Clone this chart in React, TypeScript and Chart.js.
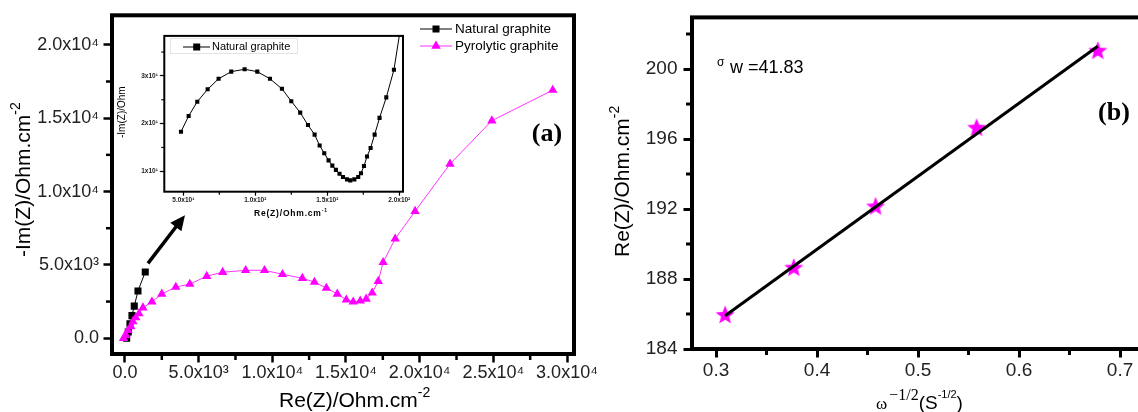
import React, { useEffect, useRef } from 'react';
import { Chart, registerables } from 'chart.js';

Chart.register(...registerables);

const SANS = 'Arial, "Liberation Sans", sans-serif';
const SERIF = '"Times New Roman", "Liberation Serif", serif';

// ---------- Panel (a): Nyquist plot ----------
const natX = [115, 224, 339, 475, 631, 883, 1378];
const natY = [0, 420, 990, 1540, 2190, 3220, 4520];

const pyrX = [-100, 70, 200, 400, 540, 740, 950, 1220, 1830, 2500, 3450, 4400, 5550, 6630, 8190, 9470, 10690, 12040, 12860, 13670, 14410, 15020, 15490, 15970, 16370, 16780, 17190, 17520, 18340, 19690, 22060, 24900, 29030];
const pyrY = [0, 200, 540, 800, 1140, 1410, 1680, 2080, 2480, 3020, 3490, 3690, 4230, 4500, 4630, 4630, 4360, 4090, 3830, 3420, 3020, 2620, 2480, 2550, 2680, 3090, 3890, 5170, 6780, 8660, 11880, 14830, 16910];

const aXTickValues = [0, 5000, 10000, 15000, 20000, 25000, 30000];
const aXTickLabels = ['0.0', '5.0x10³', '1.0x10⁴', '1.5x10⁴', '2.0x10⁴', '2.5x10⁴', '3.0x10⁴'];
const aYTickValues = [0, 5000, 10000, 15000, 20000];
const aYTickLabels = ['0.0', '5.0x10³', '1.0x10⁴', '1.5x10⁴', '2.0x10⁴'];

const arrowFrom = [1561, 5100];
const arrowTo = [4072, 8389];

// ---------- Inset: natural graphite ----------
const insetX = [48.4, 53.7, 59.7, 66.9, 74.5, 83.3, 92.6, 101.4, 110.2, 118.5, 125.0, 131.2, 136.6, 141.2, 144.7, 147.9, 150.9, 153.5, 156.0, 158.5, 160.9, 163.7, 166.0, 168.8, 171.5, 173.4, 175.5, 177.6, 180.1, 182.9, 186.3, 191.0, 196.3, 204.0];
const insetY = [18.3, 21.6, 24.6, 27.2, 29.4, 30.9, 31.4, 30.9, 29.4, 27.3, 24.7, 22.3, 19.7, 17.7, 15.4, 13.8, 12.3, 11.2, 10.3, 9.5, 8.8, 8.3, 8.1, 8.3, 8.8, 9.6, 11.1, 13.1, 14.9, 17.7, 21.2, 25.5, 31.3, 46.0];

const inXTickValues = [50, 100, 150, 200];
const inXTickLabels = ['5.0x10¹', '1.0x10²', '1.5x10²', '2.0x10²'];
const inYTickValues = [10, 20, 30];
const inYTickLabels = ['1x10¹', '2x10¹', '3x10¹'];

// ---------- Panel (b): Warburg ----------
const omegaX = [0.309, 0.377, 0.458, 0.558, 0.678];
const reZ = [185.95, 188.65, 192.15, 196.65, 201.05];
const fitX = [0.309, 0.678];
const fitY = [185.9, 201.3];

const bXTickValues = [0.3, 0.4, 0.5, 0.6, 0.7];
const bXTickLabels = ['0.3', '0.4', '0.5', '0.6', '0.7'];
const bYTickValues = [184, 188, 192, 196, 200];
const bYTickLabels = ['184', '188', '192', '196', '200'];

const sigmaText = '41.83';

// ---------- helpers ----------
function near(a: number, b: number) {
  return Math.abs(a - b) < 1e-6 * Math.max(1, Math.abs(b));
}
function isMajorIn(values: number[]) {
  return (v: number) => values.some((m) => near(v, m));
}
function labelFor(values: number[], labels: string[]) {
  return (v: any) => {
    const i = values.findIndex((m) => near(Number(v), m));
    return i >= 0 ? labels[i] : '';
  };
}
function pts(xs: number[], ys: number[]) {
  return xs.map((x, i) => ({ x, y: ys[i] }));
}
function stepTicks(min: number, max: number, step: number) {
  const out: { value: number }[] = [];
  let k = Math.ceil(min / step - 1e-9);
  while (k * step <= max + 1e-9) {
    out.push({ value: Math.round(k * step * 1e6) / 1e6 });
    k++;
  }
  return out;
}

type Part = { text: string; font: string; dy?: number; dx?: number };
function drawRich(ctx: CanvasRenderingContext2D, parts: Part[], x: number, y: number, rotate = 0, spacing = '0px') {
  ctx.save();
  ctx.translate(x, y);
  if (rotate) ctx.rotate(rotate);
  ctx.textAlign = 'left';
  ctx.textBaseline = 'alphabetic';
  ctx.fillStyle = '#000';
  (ctx as any).letterSpacing = spacing;
  let cx = 0;
  for (const p of parts) {
    ctx.font = p.font;
    cx += p.dx || 0;
    ctx.fillText(p.text, cx, p.dy || 0);
    cx += ctx.measureText(p.text).width;
  }
  ctx.restore();
}

function framePlugin(lw: number) {
  return {
    id: 'frame',
    afterDatasetsDraw(chart: any) {
      const { left, top, right, bottom } = chart.chartArea;
      const c = chart.ctx;
      c.save();
      c.strokeStyle = '#000';
      c.lineWidth = lw;
      c.strokeRect(left, top, right - left, bottom - top);
      c.restore();
    },
  };
}

function minorTicksPlugin(specs: { id: string; majors: number[]; len: number; width: number }[]) {
  return {
    id: 'minorTicks',
    afterDraw(chart: any) {
      const c = chart.ctx;
      c.save();
      c.strokeStyle = '#000';
      for (const s of specs) {
        const scale = chart.scales[s.id];
        const maj = isMajorIn(s.majors);
        c.lineWidth = s.width;
        for (const t of scale.ticks) {
          if (maj(t.value)) continue;
          const p = scale.getPixelForValue(t.value);
          c.beginPath();
          if (scale.isHorizontal()) {
            c.moveTo(p, scale.top);
            c.lineTo(p, scale.top + s.len);
          } else {
            c.moveTo(scale.right, p);
            c.lineTo(scale.right - s.len, p);
          }
          c.stroke();
        }
      }
      c.restore();
    },
  };
}

function axis(o: {
  pos: 'bottom' | 'left'; min: number; max: number; step: number; values: number[]; labels: string[];
  font: any; tl: number; tw: number; pad: number; size: number; color?: string;
}) {
  const maj = isMajorIn(o.values);
  return {
    type: 'linear',
    position: o.pos,
    min: o.min,
    max: o.max,
    afterBuildTicks: (s: any) => {
      s.ticks = stepTicks(o.min, o.max, o.step);
    },
    ticks: {
      autoSkip: false,
      maxRotation: 0,
      minRotation: 0,
      padding: o.pad,
      color: o.color || '#111',
      font: o.font,
      callback: labelFor(o.values, o.labels),
    },
    grid: {
      display: true,
      drawOnChartArea: false,
      drawTicks: true,
      tickLength: o.tl,
      tickWidth: o.tw,
      tickColor: (ctx: any) => (ctx.tick && maj(ctx.tick.value) ? '#000' : 'rgba(0,0,0,0)'),
    },
    border: { display: false },
    title: { display: false },
    afterFit: (s: any) => {
      if (o.pos === 'bottom') s.height = o.size;
      else s.width = o.size;
    },
  };
}

function makeA(canvas: HTMLCanvasElement) {
  const decor = {
    id: 'decorA',
    afterDraw(chart: any) {
      const c: CanvasRenderingContext2D = chart.ctx;
      const xs = chart.scales.x;
      const ys = chart.scales.y;
      // arrow
      const x1 = xs.getPixelForValue(arrowFrom[0]);
      const y1 = ys.getPixelForValue(arrowFrom[1]);
      const x2 = xs.getPixelForValue(arrowTo[0]);
      const y2 = ys.getPixelForValue(arrowTo[1]);
      const ang = Math.atan2(y2 - y1, x2 - x1);
      const hl = 15, hw = 7;
      const bx = x2 - hl * Math.cos(ang);
      const by = y2 - hl * Math.sin(ang);
      c.save();
      c.strokeStyle = '#000';
      c.fillStyle = '#000';
      c.lineWidth = 3.5;
      c.beginPath();
      c.moveTo(x1, y1);
      c.lineTo(bx + Math.cos(ang), by + Math.sin(ang));
      c.stroke();
      c.beginPath();
      c.moveTo(x2, y2);
      c.lineTo(bx + hw * Math.sin(ang), by - hw * Math.cos(ang));
      c.lineTo(bx - hw * Math.sin(ang), by + hw * Math.cos(ang));
      c.closePath();
      c.fill();
      c.restore();

      // legend
      c.save();
      c.lineWidth = 1;
      c.strokeStyle = '#000';
      c.beginPath();
      c.moveTo(420, 29);
      c.lineTo(452, 29);
      c.stroke();
      c.fillStyle = '#000';
      c.fillRect(436 - 3.5, 29 - 3.5, 7, 7);
      c.strokeStyle = '#ff33ff';
      c.beginPath();
      c.moveTo(420, 46);
      c.lineTo(452, 46);
      c.stroke();
      c.fillStyle = '#ff00ff';
      const r = 5.4;
      c.beginPath();
      c.moveTo(436, 46 - r);
      c.lineTo(436 + r * 0.866, 46 + r / 2);
      c.lineTo(436 - r * 0.866, 46 + r / 2);
      c.closePath();
      c.fill();
      c.fillStyle = '#000';
      c.font = `13.5px ${SANS}`;
      c.textBaseline = 'middle';
      c.textAlign = 'left';
      c.fillText('Natural graphite', 455, 29);
      c.fillText('Pyrolytic graphite', 455, 46);
      // panel label
      c.font = `bold 26px ${SERIF}`;
      c.textAlign = 'center';
      c.fillText('(a)', 547, 134);
      c.restore();

      // axis titles
      drawRich(c, [
        { text: '-Im(Z)/Ohm.cm', font: `21px ${SANS}` },
        { text: '-2', font: `14px ${SANS}`, dy: -10 },
      ], 30, 257, -Math.PI / 2);
      drawRich(c, [
        { text: 'Re(Z)/Ohm.cm', font: `21px ${SANS}` },
        { text: '-2', font: `14px ${SANS}`, dy: -10 },
      ], 279, 407);
    },
  };

  return new Chart(canvas, {
    type: 'scatter',
    data: {
      datasets: [
        {
          label: 'Natural graphite',
          data: pts(natX, natY),
          showLine: true,
          borderColor: '#000',
          borderWidth: 1,
          pointStyle: 'rect',
          pointRadius: 5,
          pointBackgroundColor: '#000',
          pointBorderColor: '#000',
          pointBorderWidth: 0,
          order: 1,
        },
        {
          label: 'Pyrolytic graphite',
          data: pts(pyrX, pyrY),
          showLine: true,
          borderColor: '#ff33ff',
          borderWidth: 1,
          pointStyle: 'triangle',
          pointRadius: 5.4,
          pointBackgroundColor: '#ff00ff',
          pointBorderColor: '#ff00ff',
          pointBorderWidth: 0,
          order: 0,
        },
      ] as any,
    },
    options: {
      responsive: false,
      animation: false,
      events: [],
      layout: { padding: { left: 0, top: 10, right: 26, bottom: 0 } },
      plugins: { legend: { display: false }, tooltip: { enabled: false } },
      scales: {
        x: axis({ pos: 'bottom', min: -880, max: 30475, step: 2500, values: aXTickValues, labels: aXTickLabels,
          font: { family: SANS, size: 18 }, tl: 8.5, tw: 2.5, pad: 0, size: 58, color: '#222' }),
        y: axis({ pos: 'left', min: -1074, max: 22013, step: 2500, values: aYTickValues, labels: aYTickLabels,
          font: { family: SANS, size: 18 }, tl: 8.5, tw: 2.5, pad: 4.5, size: 112, color: '#222' }),
      } as any,
    },
    plugins: [
      framePlugin(4),
      minorTicksPlugin([
        { id: 'x', majors: aXTickValues, len: 6, width: 2.5 },
        { id: 'y', majors: aYTickValues, len: 6, width: 2.5 },
      ]),
      decor,
    ] as any,
  });
}

function makeInset(canvas: HTMLCanvasElement) {
  const bg = {
    id: 'insetBg',
    beforeDraw(chart: any) {
      const { left, top, right, bottom } = chart.chartArea;
      const c = chart.ctx;
      c.save();
      c.fillStyle = '#fff';
      c.fillRect(left, top, right - left, bottom - top);
      c.restore();
    },
  };
  const decor = {
    id: 'decorInset',
    afterDraw(chart: any) {
      const c: CanvasRenderingContext2D = chart.ctx;
      c.save();
      // legend
      c.strokeStyle = '#e4e4e4';
      c.lineWidth = 1;
      c.strokeRect(58.5, 8.5, 127, 15);
      c.strokeStyle = '#000';
      c.beginPath();
      c.moveTo(71, 17);
      c.lineTo(98, 17);
      c.stroke();
      c.fillStyle = '#000';
      c.fillRect(84.7 - 3.5, 17 - 3.5, 7, 7);
      c.font = `11px ${SANS}`;
      c.textBaseline = 'middle';
      c.textAlign = 'left';
      c.fillText('Natural graphite', 100, 17);
      c.restore();
      drawRich(c, [{ text: '-Im(Z)/Ohm', font: `10px ${SANS}` }], 13, 108, -Math.PI / 2);
      drawRich(c, [
        { text: 'Re(Z)/Ohm.cm', font: `bold 8.5px ${SANS}` },
        { text: '-1', font: `bold 5px ${SANS}`, dy: -4 },
      ], 142, 186, 0, '0.8px');
    },
  };
  return new Chart(canvas, {
    type: 'scatter',
    data: {
      datasets: [
        {
          label: 'Natural graphite',
          data: pts(insetX, insetY),
          showLine: true,
          borderColor: '#000',
          borderWidth: 1,
          pointStyle: 'rect',
          pointRadius: 2.9,
          pointBackgroundColor: '#000',
          pointBorderWidth: 0,
        },
      ] as any,
    },
    options: {
      responsive: false,
      animation: false,
      events: [],
      layout: { padding: { left: 0, top: 3.7, right: 9, bottom: 0 } },
      plugins: { legend: { display: false }, tooltip: { enabled: false } },
      scales: {
        x: axis({ pos: 'bottom', min: 36.8, max: 202.6, step: 25, values: inXTickValues, labels: inXTickLabels,
          font: { family: SANS, size: 6.5, weight: 'bold' }, tl: 4, tw: 1.2, pad: 1, size: 33.3, color: '#222' }),
        y: axis({ pos: 'left', min: 5.72, max: 38.4, step: 5, values: inYTickValues, labels: inYTickLabels,
          font: { family: SANS, size: 6.5, weight: 'bold' }, tl: 4.5, tw: 1.2, pad: 2, size: 52.3, color: '#222' }),
      } as any,
    },
    plugins: [
      bg,
      framePlugin(2),
      minorTicksPlugin([
        { id: 'x', majors: inXTickValues, len: 3, width: 1.2 },
        { id: 'y', majors: inYTickValues, len: 3, width: 1.2 },
      ]),
      decor,
    ] as any,
  });
}

function makeStar(): HTMLCanvasElement {
  const s = document.createElement('canvas');
  s.width = 22;
  s.height = 22;
  const c = s.getContext('2d')!;
  const R = 10, r = 4.3, cx = 11, cy = 11.5;
  c.beginPath();
  for (let i = 0; i < 10; i++) {
    const rad = i % 2 === 0 ? R : r;
    const a = -Math.PI / 2 + (i * Math.PI) / 5;
    const px = cx + rad * Math.cos(a);
    const py = cy + rad * Math.sin(a);
    if (i === 0) c.moveTo(px, py);
    else c.lineTo(px, py);
  }
  c.closePath();
  c.fillStyle = '#ff00ff';
  c.fill();
  return s;
}

function makeB(canvas: HTMLCanvasElement) {
  const decor = {
    id: 'decorB',
    afterDraw(chart: any) {
      const c: CanvasRenderingContext2D = chart.ctx;
      c.save();
      c.fillStyle = '#000';
      c.textAlign = 'left';
      c.textBaseline = 'alphabetic';
      c.font = `12px ${SANS}`;
      c.fillText('σ', 117, 66);
      c.font = `18px ${SANS}`;
      c.fillText('w =' + sigmaText, 130, 73);
      c.font = `bold 26px ${SERIF}`;
      c.textAlign = 'center';
      c.textBaseline = 'middle';
      c.fillText('(b)', 514, 113);
      c.restore();
      drawRich(c, [
        { text: 'Re(Z)/Ohm.cm', font: `21px ${SANS}` },
        { text: '-2', font: `14px ${SANS}`, dy: -10 },
      ], 29, 257, -Math.PI / 2);
      drawRich(c, [
        { text: 'ω', font: `17px ${SERIF}` },
        { text: '−1/2', font: `16px ${SERIF}`, dy: -9, dx: 2 },
        { text: '(S', font: `19px ${SANS}` },
        { text: '-1/2', font: `11px ${SANS}`, dy: -11 },
        { text: ')', font: `19px ${SANS}` },
      ], 276, 409);
    },
  };
  return new Chart(canvas, {
    type: 'scatter',
    data: {
      datasets: [
        {
          label: 'fit',
          data: pts(fitX, fitY),
          showLine: true,
          borderColor: '#000',
          borderWidth: 3,
          pointRadius: 0,
          order: 0,
        },
        {
          label: 'Re(Z)',
          data: pts(omegaX, reZ),
          showLine: false,
          pointStyle: makeStar(),
          pointRadius: 10,
          order: 1,
        },
      ] as any,
    },
    options: {
      responsive: false,
      animation: false,
      events: [],
      layout: { padding: { left: 0, top: 14.7, right: 12, bottom: 0 } },
      plugins: { legend: { display: false }, tooltip: { enabled: false } },
      scales: {
        x: axis({ pos: 'bottom', min: 0.2762, max: 0.7277, step: 0.05, values: bXTickValues, labels: bXTickLabels,
          font: { family: SANS, size: 19 }, tl: 8.5, tw: 3, pad: 1.5, size: 63, color: '#222' }),
        y: axis({ pos: 'left', min: 184, max: 202.95, step: 2, values: bYTickValues, labels: bYTickLabels,
          font: { family: SANS, size: 19 }, tl: 8.5, tw: 3, pad: 6, size: 92, color: '#222' }),
      } as any,
    },
    plugins: [
      framePlugin(4),
      minorTicksPlugin([
        { id: 'x', majors: bXTickValues, len: 6, width: 3 },
        { id: 'y', majors: bYTickValues, len: 6, width: 3 },
      ]),
      decor,
    ] as any,
  });
}

export default function App() {
  const aRef = useRef<HTMLCanvasElement>(null);
  const iRef = useRef<HTMLCanvasElement>(null);
  const bRef = useRef<HTMLCanvasElement>(null);

  useEffect(() => {
    const charts: Chart[] = [];
    if (aRef.current) charts.push(makeA(aRef.current));
    if (iRef.current) charts.push(makeInset(iRef.current));
    if (bRef.current) charts.push(makeB(bRef.current));
    return () => charts.forEach((c) => c.destroy());
  }, []);

  return (
    <div style={{ position: 'absolute', left: 0, top: 0, width: 1138, height: 412, overflow: 'hidden', background: '#fff' }}>
      <canvas ref={aRef} width={600} height={412} style={{ position: 'absolute', left: 0, top: 0, width: 600, height: 412 }} />
      <canvas ref={iRef} width={300} height={195} style={{ position: 'absolute', left: 112, top: 30, width: 300, height: 195 }} />
      <canvas ref={bRef} width={560} height={412} style={{ position: 'absolute', left: 600, top: 0, width: 560, height: 412 }} />
    </div>
  );
}
